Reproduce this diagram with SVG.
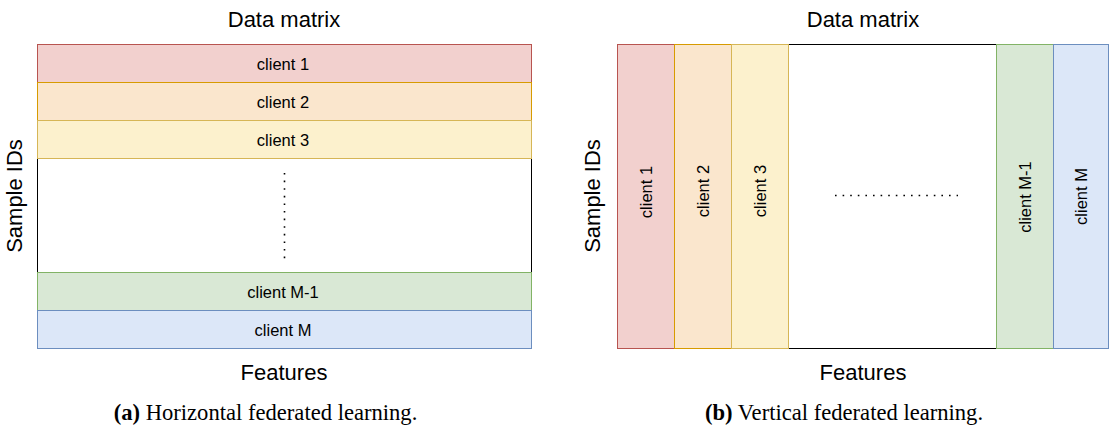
<svg xmlns="http://www.w3.org/2000/svg" width="1120" height="432" viewBox="0 0 1120 432">
<style>
.lbl{font-family:"Liberation Sans",Arial,sans-serif;font-size:22px;fill:#000;text-anchor:middle}
.cl{font-family:"Liberation Sans",Arial,sans-serif;font-size:16.5px;fill:#000;text-anchor:middle;dominant-baseline:central}
.cap{font-family:"Liberation Serif","Times New Roman",serif;font-size:22.6px;fill:#000;text-anchor:middle}
.outer{fill:#fff;stroke:#000;stroke-width:1}
.red{fill:#f2d0ce;stroke:#b85450}
.org{fill:#fae6cd;stroke:#d79b00}
.yel{fill:#fcf1cd;stroke:#d6b656}
.grn{fill:#d9e8d5;stroke:#82b366}
.blu{fill:#dce7f8;stroke:#6c8ebf}
.dots{stroke:#000;stroke-width:1.6;fill:none}
</style>
<g id="left">
<text class="lbl" x="284" y="27">Data matrix</text>
<text class="lbl" transform="translate(22,196) rotate(-90)" x="0" y="0">Sample IDs</text>
<text class="lbl" x="284" y="380">Features</text>
<rect class="outer" x="37.5" y="44.5" width="494" height="304"/>
<g id="h-client1"><rect class="red" x="37.5" y="44.5" width="494" height="38"/><text class="cl" x="283" y="63.5">client 1</text></g>
<g id="h-client2"><rect class="org" x="37.5" y="82.5" width="494" height="38"/><text class="cl" x="283" y="101.5">client 2</text></g>
<g id="h-client3"><rect class="yel" x="37.5" y="120.5" width="494" height="38"/><text class="cl" x="283" y="139.5">client 3</text></g>
<line class="dots" x1="284.5" y1="173" x2="284.5" y2="259" stroke-dasharray="1.6 6"/>
<g id="h-clientM1"><rect class="grn" x="37.5" y="272.5" width="494" height="38"/><text class="cl" x="283" y="291.5">client M-1</text></g>
<g id="h-clientM"><rect class="blu" x="37.5" y="310.5" width="494" height="38"/><text class="cl" x="283" y="330">client M</text></g>
<text class="cap" x="265.5" y="420"><tspan font-weight="bold">(a)</tspan> Horizontal federated learning.</text>
</g>
<g id="right">
<text class="lbl" x="863" y="27">Data matrix</text>
<text class="lbl" transform="translate(600,196) rotate(-90)" x="0" y="0">Sample IDs</text>
<text class="lbl" x="863" y="380">Features</text>
<rect class="outer" x="617.5" y="44.5" width="491" height="304"/>
<g id="v-client1"><rect class="red" x="617.5" y="44.5" width="57" height="304"/><text class="cl" transform="translate(646,192) rotate(-90)">client 1</text></g>
<g id="v-client2"><rect class="org" x="674.5" y="44.5" width="57" height="304"/><text class="cl" transform="translate(703,191) rotate(-90)">client 2</text></g>
<g id="v-client3"><rect class="yel" x="731.5" y="44.5" width="57" height="304"/><text class="cl" transform="translate(760,191) rotate(-90)">client 3</text></g>
<line class="dots" x1="835" y1="195.5" x2="958" y2="195.5" stroke-dasharray="1.6 6"/>
<g id="v-clientM1"><rect class="grn" x="996.5" y="44.5" width="57" height="304"/><text class="cl" transform="translate(1025,197) rotate(-90)">client M-1</text></g>
<g id="v-clientM"><rect class="blu" x="1053.5" y="44.5" width="55" height="304"/><text class="cl" transform="translate(1081,196.5) rotate(-90)">client M</text></g>
<text class="cap" x="844" y="420"><tspan font-weight="bold">(b)</tspan> Vertical federated learning.</text>
</g>
</svg>
